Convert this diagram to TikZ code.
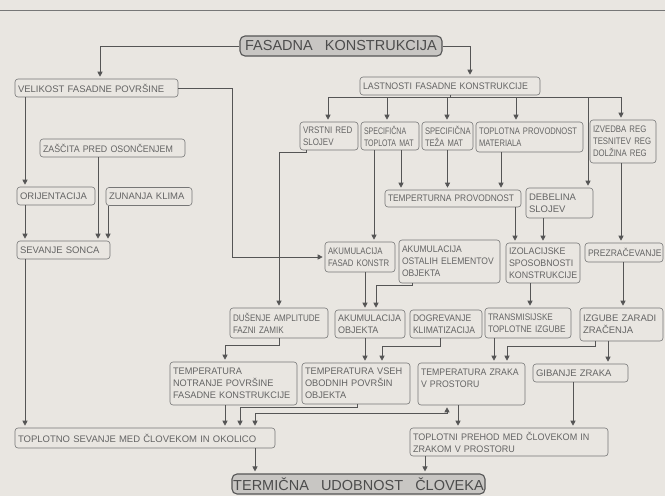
\documentclass[tikz,border=0pt]{standalone}
\usepackage{fontspec}
\setmainfont{Liberation Sans}[WordSpace=3]
\usetikzlibrary{arrows.meta}
\hyphenpenalty=10000
\exhyphenpenalty=10000
\definecolor{bgc}{RGB}{233,230,225}
\definecolor{lnc}{RGB}{85,85,85}
\definecolor{boxline}{RGB}{118,118,118}
\definecolor{txc}{RGB}{100,100,100}
\definecolor{mainfill}{RGB}{200,198,195}
\newcommand\mynodefont{\fontsize{9.5}{12}\selectfont\hyphenpenalty=10000\relax}
\tikzset{
  box/.style={draw=boxline, line width=0.6pt, rounded corners=3pt, inner xsep=3pt, inner ysep=1pt, align=left, text=txc, font=\mynodefont},
  sq/.style={font=\mynodefont\addfontfeature{FakeStretch=#1}},
  mainbox/.style={draw=lnc, line width=1.1pt, fill=mainfill, rounded corners=5pt, inner sep=0pt, align=center, text=lnc!90!black, font=\fontsize{14.5}{16}\selectfont},
  arr/.style={draw=lnc, line width=0.65pt, -{Triangle[width=5pt,length=5pt]}, shorten >=2pt},
  arrs/.style={draw=lnc, line width=0.65pt, {Triangle[width=5pt,length=5pt]}-{Triangle[width=5pt,length=5pt]}, shorten >=2pt, shorten <=2pt}
}
\newcommand\bnode[7][]{\pgfmathsetmacro\mytw{#5-6}\node[box,#1,minimum width=#5pt,minimum height=#6pt,text width=\mytw pt] (#2) at (#3,#4) {#7};}
\begin{document}
\begin{tikzpicture}[x=1pt,y=-1pt]
\useasboundingbox (0,0) rectangle (665,496);
\fill[bgc] (0,0) rectangle (665,496);
\draw[line width=0.9pt, lnc!80] (0,10) -- (665,10);

% main nodes
\node[mainbox, minimum width=202pt, minimum height=20pt] (fas) at (341,46) {FASADNA~KONSTRUKCIJA};
\node[mainbox, minimum width=253pt, minimum height=20pt] (ter) at (358.5,484) {TERMIČNA~UDOBNOST~ČLOVEKA};

% boxes
\bnode{vel}{96.5}{88}{163}{18}{VELIKOST~FASADNE~POVRŠINE}
\bnode[sq=0.93]{las}{450}{86}{180}{18}{LASTNOSTI~FASADNE~KONSTRUKCIJE}
\bnode[sq=0.93]{zas}{112.5}{148}{145}{18}{ZAŠČITA~PRED~OSONČENJEM}
\bnode{ori}{56}{196}{78}{18}{ORIJENTACIJA}
\bnode{zun}{149}{196.5}{86}{18}{ZUNANJA~KLIMA}
\bnode{sev}{63.5}{250}{93}{18}{SEVANJE~SONCA}
\bnode[sq=0.84]{vrs}{329}{136}{58}{28}{VRSTNI~RED\\SLOJEV}
\bnode[sq=0.74]{spt}{390}{136}{58}{28}{SPECIFIČNA\\TOPLOTA~MAT}
\bnode[sq=0.8]{spz}{447.5}{136}{51}{28}{SPECIFIČNA\\TEŽA~MAT}
\bnode[sq=0.8]{tpm}{529.5}{137}{107}{30}{TOPLOTNA~PROVODNOST\\MATERIALA}
\bnode[sq=0.82]{izv}{623}{141.5}{66}{43}{IZVEDBA~REG\\TESNITEV~REG\\DOLŽINA~REG}
\bnode[sq=0.88]{tmp}{453}{198.5}{136}{17}{TEMPERTURNA~PROVODNOST}
\bnode{deb}{559.5}{203}{67}{30}{DEBELINA\\SLOJEV}
\bnode[sq=0.82]{akf}{360}{257}{70}{30}{AKUMULACIJA\\FASAD~KONSTR}
\bnode[sq=0.9]{ako}{449.5}{261.5}{101}{43}{AKUMULACIJA\\OSTALIH~ELEMENTOV\\OBJEKTA}
\bnode[sq=0.93]{izo}{543}{263}{74}{40}{IZOLACIJSKE\\SPOSOBNOSTI\\KONSTRUKCIJE}
\bnode[sq=0.9]{prz}{624}{252.5}{78}{19}{PREZRAČEVANJE}
\bnode[sq=0.85]{dus}{279}{323}{98}{30}{DUŠENJE~AMPLITUDE\\FAZNI~ZAMIK}
\bnode[sq=0.95]{akb}{370}{324}{70}{28}{AKUMULACIJA\\OBJEKTA}
\bnode[sq=0.9]{dog}{446}{324}{72}{28}{DOGREVANJE\\KLIMATIZACIJA}
\bnode[sq=0.86]{trn}{528}{323}{86}{30}{TRANSMISIJSKE\\TOPLOTNE~IZGUBE}
\bnode{izg}{621.5}{324.5}{83}{33}{IZGUBE~ZARADI\\ZRAČENJA}
\bnode[sq=0.97]{tnp}{233.5}{383.5}{127}{43}{TEMPERATURA\\NOTRANJE~POVRŠINE\\FASADNE~KONSTRUKCIJE}
\bnode[sq=0.97]{tvs}{356}{383.5}{108}{41}{TEMPERATURA~VSEH\\OBODNIH~POVRŠIN\\OBJEKTA}
\bnode[sq=0.92]{tzr}{471.5}{384}{107}{42}{TEMPERATURA~ZRAKA\\V~PROSTORU\\\mbox{}}
\bnode{gib}{580.5}{373}{95}{18}{GIBANJE~ZRAKA}
\bnode{tsv}{145}{438}{260}{20}{TOPLOTNO~SEVANJE~MED~ČLOVEKOM~IN~OKOLICO}
\bnode[sq=0.95]{tph}{509}{442}{198}{28}{TOPLOTNI~PREHOD~MED~ČLOVEKOM~IN\\ZRAKOM~V~PROSTORU}

% connectors
\draw[arr] (fas.west) -| (vel.north -| 100,0);
\draw[arr] (fas.east) -| (las.north -| 470,0);
\draw[arr] (vel.east) -| (akf.west -| 232,0) -- (akf.west);
\draw[arr] (vel.south -| 25,0) -- (ori.north -| 25,0);
\draw[arr] (ori.south -| 25,0) -- (sev.north -| 25,0);
\draw[arr] (zas.south -| 98,0) -- (sev.north -| 98,0);
\draw[arr] (zun.south -| 108,0) -- (sev.north -| 108,0);
\draw[arr] (sev.south -| 25,0) -- (tsv.north -| 25,0);
\foreach \t/\x in {vrs/328, spt/387, spz/447, tpm/516, deb/588, izv/621}
  {\draw[arr] (las.south) -- (las.south |- 0,97) -| (\t.north -| \x,0);}
\draw[arr] (vrs.south -| 306,0) -- ++(0,2) -| (dus.north);
\draw[arr] (spt.south -| 374,0) -- (akf.north -| 374,0);
\draw[arr] (spt.south -| 401,0) -- (tmp.north -| 401,0);
\draw[arr] (spz.south) -- (tmp.north -| spz.south);
\draw[arr] (tpm.south -| 501,0) -- (tmp.north -| 501,0);
\draw[arr] (izv.south -| 621,0) -- (prz.north -| 621,0);
\draw[arr] (tmp.south -| 515,0) -- (izo.north -| 515,0);
\draw[arr] (deb.south -| 543,0) -- (izo.north -| 543,0);
\draw[arr] (akf.south -| 365,0) -- (akb.north -| 365,0);
\draw[arr] (ako.south -| 412,0) -- ++(0,2) -| (akb.north -| 376,0);
\draw[arr] (izo.south -| 530,0) -- (trn.north -| 530,0);
\draw[arr] (prz.south -| 623,0) -- (izg.north -| 623,0);
\draw[arr] (dus.south) -- (dus.south |- 0,345) -| (tnp.north -| 225,0);
\draw[arr] (akb.south -| 365,0) -- (tvs.north -| 365,0);
\draw[arr] (dog.south -| 440,0) -- ++(0,8) -| (tvs.north -| 382,0);
\draw[arr] (trn.south -| 494,0) -- (tzr.north -| 494,0);
\draw[arr] (izg.south -| 595,0) -- ++(0,5) -| (tzr.north -| 507,0);
\draw[arr] (izg.south -| 608,0) -- (gib.north -| 608,0);
\draw[arr] (tnp.south -| 225,0) -- (tsv.north -| 225,0);
\draw[arr] (tvs.south -| 357,0) -- ++(0,3) -| (tsv.north -| 240,0);
\draw[arrs] (tzr.south -| 447,0) -- ++(0,8) -| (tsv.north -| 255,0);
\draw[arr] (tzr.south -| 458,0) -- (tph.north -| 458,0);
\draw[arr] (gib.south -| 573,0) -- (tph.north -| 573,0);
\draw[arr] (tsv.south -| 255,0) -- (ter.north -| 255,0);
\draw[arr] (tph.south -| 425,0) -- (ter.north -| 425,0);
\end{tikzpicture}
\end{document}
